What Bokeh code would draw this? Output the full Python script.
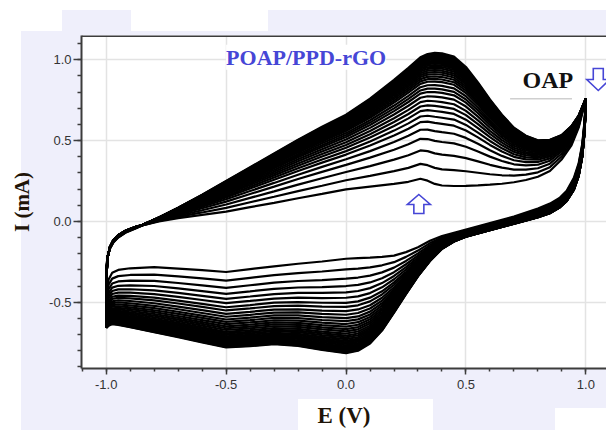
from bokeh.plotting import figure
from bokeh.models import Range1d, FixedTicker, Label, Span
from bokeh.embed import file_html
from bokeh.resources import INLINE

# ---------------- data ----------------
# forward (anodic) sweep potentials, V
e_fwd = [-1.00, -1.00, -0.995, -0.985, -0.97, -0.95, -0.92, -0.88, -0.85,
         -0.78, -0.70, -0.60, -0.50, -0.40, -0.30, -0.20, -0.10,
         0.00, 0.10, 0.20, 0.26, 0.31, 0.34, 0.37, 0.40,
         0.45, 0.50, 0.55, 0.60, 0.65, 0.70, 0.75, 0.80, 0.85, 0.90,
         0.94, 0.97, 1.00]
# first cycle (innermost) anodic current, mA
i_fwd_first = [-0.45, -0.30, -0.22, -0.17, -0.13, -0.10, -0.07, -0.045, -0.025,
               0.000, 0.020, 0.040, 0.060, 0.088, 0.115, 0.143, 0.170,
               0.198, 0.215, 0.232, 0.245, 0.264, 0.252, 0.232, 0.222,
               0.219, 0.220, 0.223, 0.227, 0.233, 0.242, 0.256, 0.276, 0.312, 0.385,
               0.470, 0.580, 0.760]
# last cycle (outer envelope) anodic current, mA
i_fwd_last = [-0.66, -0.40, -0.23, -0.16, -0.115, -0.085, -0.058, -0.035, -0.022,
              0.025, 0.085, 0.165, 0.250, 0.335, 0.420, 0.505, 0.585,
              0.660, 0.760, 0.875, 0.950, 1.015, 1.035, 1.042, 1.040,
              1.020, 0.955, 0.860, 0.755, 0.660, 0.580, 0.530, 0.502, 0.505, 0.535,
              0.590, 0.655, 0.760]
# reverse (cathodic) sweep potentials, V
e_rev = [1.00, 0.995, 0.985, 0.97, 0.95, 0.92, 0.89, 0.85,
         0.80, 0.75, 0.70, 0.60, 0.50, 0.45, 0.40, 0.35,
         0.30, 0.25, 0.20, 0.15, 0.10, 0.05, 0.00,
         -0.10, -0.20, -0.30, -0.40, -0.50, -0.60, -0.70, -0.80, -0.90,
         -0.95, -0.975, -0.99, -1.00]
i_rev_first = [0.76, 0.63, 0.48, 0.36, 0.27, 0.19, 0.145, 0.11,
               0.08, 0.055, 0.03, -0.01, -0.05, -0.07, -0.09, -0.12,
               -0.16, -0.19, -0.212, -0.220, -0.224, -0.227, -0.231,
               -0.248, -0.262, -0.278, -0.295, -0.313, -0.302, -0.292, -0.283, -0.290,
               -0.300, -0.318, -0.36, -0.45]
i_rev_last = [0.76, 0.56, 0.40, 0.28, 0.195, 0.125, 0.085, 0.05,
              0.025, 0.005, -0.015, -0.055, -0.095, -0.125, -0.17, -0.245,
              -0.34, -0.45, -0.565, -0.675, -0.755, -0.800, -0.815,
              -0.795, -0.770, -0.760, -0.772, -0.780, -0.748, -0.716, -0.686, -0.655,
              -0.640, -0.635, -0.645, -0.660]
# per-cycle anodic peak current near 0.31 V (mA), read cycle by cycle
peak_anodic = [0.264, 0.356, 0.439, 0.511, 0.567, 0.614, 0.649, 0.682, 0.711, 0.738,
               0.765, 0.790, 0.810, 0.830, 0.851, 0.866, 0.880,
               0.893, 0.905, 0.916, 0.927, 0.937, 0.946, 0.955, 0.963, 0.971, 0.979,
               0.986, 0.993, 1.000, 1.008, 1.015]
# per-cycle cathodic current at -0.5 V (mA)
level_cathodic = [-0.313, -0.366, -0.411, -0.448, -0.479, -0.506, -0.531, -0.551, -0.572, -0.590,
                  -0.607, -0.622, -0.636, -0.649, -0.661, -0.672, -0.683,
                  -0.693, -0.702, -0.711, -0.719, -0.727, -0.734, -0.741, -0.748, -0.754, -0.760,
                  -0.765, -0.769, -0.773, -0.777, -0.780]

x_ticks = [-1.0, -0.5, 0.0, 0.5, 1.0]
x_tick_labels = ["-1.0", "-0.5", "0.0", "0.5", "1.0"]
y_ticks = [-0.5, 0.0, 0.5, 1.0]
y_tick_labels = ["-0.5", "0.0", "0.5", "1.0"]
x_label = "E (V)"
y_label = "I (mA)"
title_text = "POAP/PPD-rGO"
oap_text = "OAP"

# ---------------- styles / placement ----------------
LAV = "#EFEFFB"
AX = "#3c3c3c"
TXT = "#333333"
BLUE = "#4646D6"
PX_PER_V = 239.8      # horizontal scale of the frame
PX_PER_MA = 161.6     # vertical scale of the frame
ARROW_UP_AT = (0.3036, 0.1077)
ARROW_DOWN_AT = (1.0517, 0.878)
# hollow block-arrow outlines, pixel offsets (x right, y down)
arrow_up_px = [(0, -9.5), (11.5, 0.5), (5, 0.5), (5, 9.5), (-5, 9.5), (-5, 0.5), (-11.5, 0.5)]
arrow_down_px = [(0, 11), (11.5, 0), (5, 0), (5, -11), (-5, -11), (-5, 0), (-11.5, 0)]

# page background: lavender with a few white patches (as in the scanned figure)
white_patches = [  # left, top, width, height in px
    (0, 0, 606, 10), (0, 0, 62, 31), (131, 0, 137, 31), (0, 0, 21, 430),
    (298, 399, 135, 31), (555, 408, 51, 22)]
bg_layers = ["linear-gradient(#ffffff,#ffffff) %dpx %dpx / %dpx %dpx no-repeat" % wp
             for wp in white_patches]
bg = ", ".join(bg_layers + [LAV])

p = figure(width=606, height=430, output_backend="svg", toolbar_location=None,
           x_range=Range1d(-1.103, 1.086), y_range=Range1d(-0.91, 1.15),
           min_border_left=81, min_border_right=0, min_border_top=35, min_border_bottom=62,
           styles={"background": bg})
p.background_fill_color = "white"
p.border_fill_color = None
p.outline_line_color = None

xs, ys = [], []
pa0, pa1 = peak_anodic[0], peak_anodic[-1]
lc0, lc1 = level_cathodic[0], level_cathodic[-1]
for pa, lc in zip(peak_anodic, level_cathodic):
    wa = (pa - pa0) / (pa1 - pa0)
    wc = (lc - lc0) / (lc1 - lc0)
    yf = [a + wa * (b - a) for a, b in zip(i_fwd_first, i_fwd_last)]
    yr = [a + wc * (b - a) for a, b in zip(i_rev_first, i_rev_last)]
    xs.append(e_fwd + e_rev)
    ys.append(yf + yr)
p.multi_line(xs, ys, line_color="black", line_width=2.2)

# axes
minor_x = [round(-1.1 + 0.1 * k, 2) for k in range(22)]
minor_y = [round(-0.9 + 0.1 * k, 2) for k in range(21)]
for ax, ticks, labels, minors in ((p.xaxis[0], x_ticks, x_tick_labels, minor_x),
                                  (p.yaxis[0], y_ticks, y_tick_labels, minor_y)):
    ax.ticker = FixedTicker(ticks=ticks, minor_ticks=minors)
    ax.major_label_overrides = {t: l for t, l in zip(ticks, labels)}
    ax.axis_line_color = AX
    ax.axis_line_width = 2
    ax.major_tick_line_color = AX
    ax.minor_tick_line_color = AX
    ax.major_tick_line_width = 1.5
    ax.minor_tick_line_width = 1.5
    ax.major_tick_in = 0
    ax.minor_tick_in = 0
    ax.major_label_text_font = "Liberation Sans"
    ax.major_label_text_font_size = "13px"
    ax.major_label_text_color = TXT
    ax.axis_label_text_font = "Liberation Serif"
    ax.axis_label_text_font_style = "bold"
    ax.axis_label_text_color = "#1e1408"

p.xaxis.major_tick_out = 6
p.xaxis.minor_tick_out = 3
p.yaxis.major_tick_out = 8
p.yaxis.minor_tick_out = 4
p.xaxis.major_label_standoff = 5
p.yaxis.major_label_standoff = 2
p.xaxis.axis_label = x_label
p.yaxis.axis_label = y_label
p.xaxis.axis_label_text_font_size = "23px"
p.yaxis.axis_label_text_font_size = "21px"
p.xaxis.axis_label_standoff = 11
p.yaxis.axis_label_standoff = 12

p.xgrid.ticker = FixedTicker(ticks=x_ticks)
p.ygrid.ticker = FixedTicker(ticks=y_ticks)
for g in (p.xgrid[0], p.ygrid[0]):
    g.grid_line_color = "#E3E3E3"
    g.grid_line_width = 1.5

# top frame line
p.add_layout(Span(location=1.147, dimension="width", line_color=AX, line_width=2))

# annotations
p.add_layout(Label(x=-0.50, y=1.015, text=title_text, text_font="Liberation Serif",
                   text_font_style="bold", text_font_size="22px", text_color=BLUE,
                   text_baseline="middle", text_align="left",
                   background_fill_color="white"))
p.add_layout(Label(x=0.736, y=0.872, text=oap_text, text_font="Liberation Serif",
                   text_font_style="bold", text_font_size="24px", text_color="#111111",
                   text_baseline="middle", text_align="left"))
p.segment(x0=[0.684], y0=[0.759], x1=[0.942], y1=[0.759], line_color="#CFCFCF", line_width=1.5)

arrow_xs, arrow_ys = [], []
for (e0, i0), shape in ((ARROW_UP_AT, arrow_up_px), (ARROW_DOWN_AT, arrow_down_px)):
    arrow_xs.append([e0 + dx / PX_PER_V for dx, dy in shape])
    arrow_ys.append([i0 - dy / PX_PER_MA for dx, dy in shape])
p.patches(arrow_xs, arrow_ys, fill_color=None, line_color=BLUE, line_width=1.6,
          line_join="miter")

open("out.html", "w").write(file_html(p, INLINE))
